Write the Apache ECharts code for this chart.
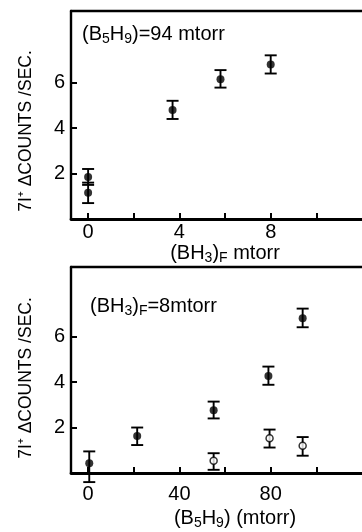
<!DOCTYPE html>
<html><head><meta charset="utf-8">
<script src="https://cdn.jsdelivr.net/npm/echarts@6/dist/echarts.min.js"></script>
<style>html,body{margin:0;background:#fff}#c{width:362px;height:532px}</style>
</head><body><div id="c"></div>
<script>
// Upper panel: signal vs (BH3)F at (B5H9) = 94 mtorr
const upperX = [0, 0, 3.7, 5.8, 8.0];
const upperY = [1.85, 1.15, 4.8, 6.15, 6.8];
const upperLow = [1.5, 0.7, 4.4, 5.78, 6.4];
const upperHigh = [2.2, 1.6, 5.2, 6.55, 7.2];

// Lower panel: signal vs (B5H9) at (BH3)F = 8 mtorr, filled circles
const lowerFilledX = [0.5, 21.5, 55, 79, 94];
const lowerFilledY = [0.43, 1.63, 2.76, 4.27, 6.81];
const lowerFilledLow = [-0.4, 1.23, 2.4, 3.88, 6.41];
const lowerFilledHigh = [0.95, 2.0, 3.14, 4.68, 7.23];

// Lower panel, open circles
const lowerOpenX = [55, 79.5, 94];
const lowerOpenY = [0.54, 1.53, 1.2];
const lowerOpenLow = [0.14, 1.12, 0.76];
const lowerOpenHigh = [0.87, 1.91, 1.58];

// Ticks and tick labels
const upperXTicks = [0, 2, 4, 6, 8, 10];
const upperXLabels = [0, 4, 8];
const lowerXTicks = [0, 20, 40, 60, 80, 100];
const lowerXLabels = [0, 40, 80];
const yTicks = [2, 4, 6];
const yLabels = [2, 4, 6];

const FONT = '"Liberation Sans", Arial, sans-serif';
const INK = '#000';

const chart = echarts.init(document.getElementById('c'), null, {renderer: 'canvas'});

function xAxisMain(grid, min, max, ticks, labels, margin) {
  return {
    gridIndex: grid, type: 'value', min, max, position: 'bottom',
    axisLine: {show: true, onZero: false, lineStyle: {color: INK, width: 2.8}},
    axisTick: {show: true, inside: true, length: 6, customValues: ticks, lineStyle: {color: INK, width: 2}},
    axisLabel: {customValues: labels, margin, fontSize: 20, fontFamily: FONT, color: INK},
    splitLine: {show: false}
  };
}
function xAxisTop(grid, min, max) {
  return {
    gridIndex: grid, type: 'value', min, max, position: 'top',
    axisLine: {show: true, onZero: false, lineStyle: {color: INK, width: 2.4}},
    axisTick: {show: false}, axisLabel: {show: false}, splitLine: {show: false}
  };
}
function yAxisMain(grid, max) {
  return {
    gridIndex: grid, type: 'value', min: 0, max, position: 'left',
    axisLine: {show: true, onZero: false, lineStyle: {color: INK, width: 2.4}},
    axisTick: {show: true, inside: true, length: 6, customValues: yTicks, lineStyle: {color: INK, width: 2}},
    axisLabel: {customValues: yLabels, margin: 6, fontSize: 20, fontFamily: FONT, color: INK},
    splitLine: {show: false}
  };
}

function errorBars(xs, lows, highs, xi, yi) {
  return {
    type: 'custom', xAxisIndex: xi, yAxisIndex: yi, clip: false, z: 3,
    data: xs.map((x, i) => [x, lows[i], highs[i]]),
    encode: {x: 0, y: [1, 2]},
    renderItem(params, api) {
      const lo = api.coord([api.value(0), api.value(1)]);
      const hi = api.coord([api.value(0), api.value(2)]);
      const w = 6;
      const st = {stroke: INK, lineWidth: 1.9};
      return {type: 'group', children: [
        {type: 'line', shape: {x1: lo[0], y1: lo[1], x2: hi[0], y2: hi[1]}, style: st},
        {type: 'line', shape: {x1: lo[0] - w, y1: lo[1], x2: lo[0] + w, y2: lo[1]}, style: st},
        {type: 'line', shape: {x1: hi[0] - w, y1: hi[1], x2: hi[0] + w, y2: hi[1]}, style: st}
      ]};
    }
  };
}
function points(xs, ys, xi, yi, open) {
  return {
    type: 'scatter', xAxisIndex: xi, yAxisIndex: yi, z: 4,
    symbol: 'circle', symbolSize: open ? 7 : 8,
    itemStyle: open ? {color: '#fff', borderColor: INK, borderWidth: 1.5} : {color: INK},
    data: xs.map((x, i) => [x, ys[i]])
  };
}

const sub = {fontSize: 14, fontFamily: FONT, fill: INK, padding: [11, 0, 0, 0]};
function label(x, y, text, align, rotation, size) {
  return {
    type: 'text', x, y, rotation: rotation || 0,
    style: {
      text, fontSize: size || 20, fontFamily: FONT, fill: INK,
      align: align || 'left', verticalAlign: 'middle',
      textAlign: align || 'left', textVerticalAlign: 'middle',
      rich: {s: sub}
    }
  };
}

chart.setOption({
  animation: false,
  backgroundColor: '#fff',
  grid: [
    {left: 71, top: 11, width: 303, height: 208},
    {left: 71, top: 267, width: 303, height: 206}
  ],
  xAxis: [
    xAxisMain(0, -0.75, 12, upperXTicks, upperXLabels, 3),
    xAxisMain(1, -7.5, 120, lowerXTicks, lowerXLabels, 11),
    xAxisTop(0, -0.75, 12),
    xAxisTop(1, -7.5, 120)
  ],
  yAxis: [yAxisMain(0, 9.15), yAxisMain(1, 9.06)],
  series: [
    errorBars(upperX, upperLow, upperHigh, 0, 0),
    points(upperX, upperY, 0, 0, false),
    errorBars(lowerFilledX, lowerFilledLow, lowerFilledHigh, 1, 1),
    points(lowerFilledX, lowerFilledY, 1, 1, false),
    errorBars(lowerOpenX, lowerOpenLow, lowerOpenHigh, 1, 1),
    points(lowerOpenX, lowerOpenY, 1, 1, true)
  ],
  graphic: [
    label(26, 131, '7I\u207A \u0394COUNTS /SEC.', 'center', Math.PI / 2, 17.5),
    label(26, 378, '7I\u207A \u0394COUNTS /SEC.', 'center', Math.PI / 2, 17.5),
    label(82, 34, '(B{s|5}H{s|9})=94 mtorr', 'left'),
    label(90, 306, '(BH{s|3}){s|F}=8mtorr', 'left'),
    label(225, 253, '(BH{s|3}){s|F} mtorr', 'center'),
    label(235, 518, '(B{s|5}H{s|9}) (mtorr)', 'center')
  ]
});
</script>
</body></html>
